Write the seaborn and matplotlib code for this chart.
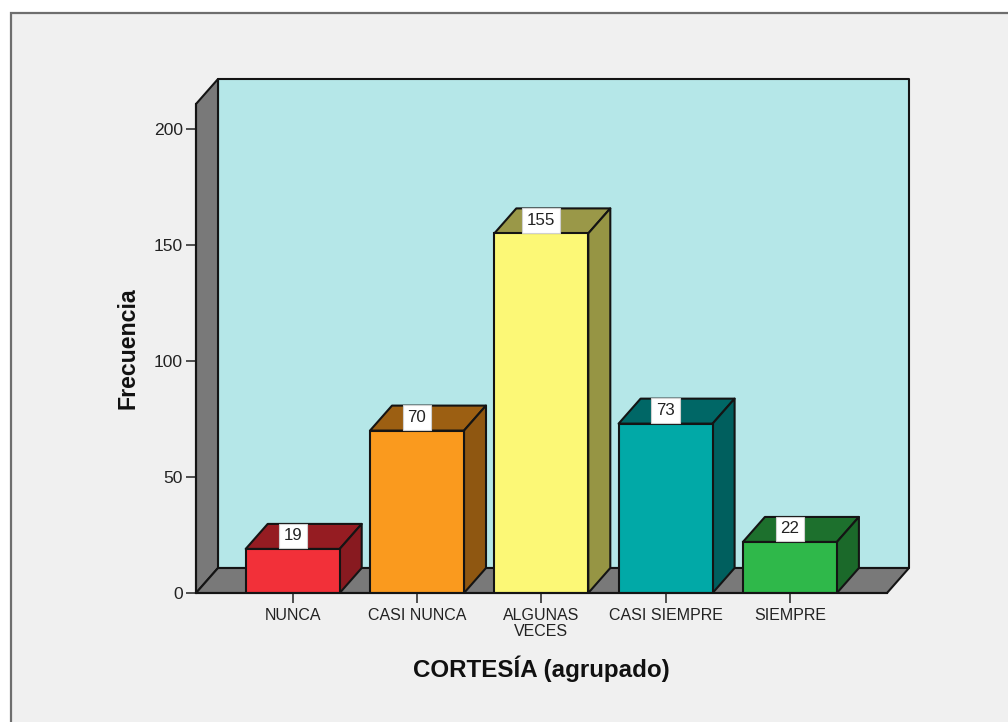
import matplotlib.pyplot as plt
import matplotlib.patches as mpatches
import pandas as pd
import seaborn as sns

# chart data
categories = ["NUNCA", "CASI NUNCA", "ALGUNAS\nVECES", "CASI SIEMPRE", "SIEMPRE"]
frequencies = [19, 70, 155, 73, 22]
y_ticks = [0, 50, 100, 150, 200]

# styles
front_colors = ["#f23039", "#fa9a1e", "#fcf876", "#01a9a7", "#2fb84a"]
top_colors = ["#951c22", "#9c5f12", "#9a9848", "#006766", "#1d702d"]
side_colors = ["#881a20", "#8f5711", "#969544", "#005f5e", "#1b692a"]
EDGE = "#141414"
WALL = "#b5e7e8"
GREY = "#797979"
PANEL = "#f0f0f0"

W, H = 1008, 722
X0, X1, Y0, Y1 = 196, 887, 593, 104  # front plane, in pixels
SLOT = 124.3  # pixels between bars
FIRST = 292.7  # pixel centre of the first bar
PX_PER_UNIT = 2.32
DEPTH_X = 22 / SLOT
DEPTH_Y = 25 / PX_PER_UNIT

sns.set_theme(style="white")
plt.rcParams["font.family"] = ["Liberation Sans", "DejaVu Sans"]

fig = plt.figure(figsize=(W / 100, H / 100), dpi=100, facecolor="white")

# panel with the grey border on top and left only
fig.add_artist(mpatches.Rectangle((11 / W, -0.01), 1, 1.01 - 13 / H, transform=fig.transFigure,
                                  facecolor=PANEL, edgecolor="#6e6e6e", linewidth=1.6, zorder=-1))

ax = fig.add_axes([X0 / W, (H - Y0) / H, (X1 - X0) / W, (Y0 - Y1) / H])
ax.patch.set_alpha(0)

df = pd.DataFrame({"cat": categories, "freq": frequencies})
sns.barplot(data=df, x="cat", y="freq", hue="cat", palette=front_colors, legend=False,
            width=94 / SLOT, edgecolor=EDGE, linewidth=1.5, saturation=1, ax=ax, zorder=4)

ax.set_xlim((X0 - FIRST) / SLOT, (X1 - FIRST) / SLOT)
ax.set_ylim(0, (Y0 - Y1) / PX_PER_UNIT)
xa, xb = ax.get_xlim()
ya, yb = ax.get_ylim()


def face(points, color, z):
    ax.add_patch(mpatches.Polygon(points, closed=True, facecolor=color, edgecolor=EDGE,
                                  linewidth=1.5, joinstyle="round", clip_on=False, zorder=z))


bars = list(ax.patches)

# back wall, left wall, floor
face([(xa + DEPTH_X, ya + DEPTH_Y), (xb + DEPTH_X, ya + DEPTH_Y),
      (xb + DEPTH_X, yb + DEPTH_Y), (xa + DEPTH_X, yb + DEPTH_Y)], WALL, 1)
face([(xa, ya), (xa + DEPTH_X, ya + DEPTH_Y), (xa + DEPTH_X, yb + DEPTH_Y), (xa, yb)], GREY, 1.5)
face([(xa, ya), (xb, ya), (xb + DEPTH_X, ya + DEPTH_Y), (xa + DEPTH_X, ya + DEPTH_Y)], GREY, 1.5)

# depth faces and value labels for every bar
for bar, top_c, side_c, value in zip(bars, top_colors, side_colors, frequencies):
    left, right = bar.get_x(), bar.get_x() + bar.get_width()
    height = bar.get_height()
    face([(left, height), (right, height), (right + DEPTH_X, height + DEPTH_Y),
          (left + DEPTH_X, height + DEPTH_Y)], top_c, 3)
    face([(right, 0), (right + DEPTH_X, DEPTH_Y), (right + DEPTH_X, height + DEPTH_Y),
          (right, height)], side_c, 3)
    ax.annotate(str(value), ((left + right) / 2, height), xytext=(0, 13), textcoords="offset pixels",
                ha="center", va="center", fontsize=12.2, color="#222222", zorder=6,
                annotation_clip=False,
                bbox=dict(boxstyle="square,pad=0.28", facecolor="white", edgecolor="#d0d0d0", linewidth=0.8))

sns.despine(ax=ax, top=True, right=True)
for side in ("left", "bottom"):
    ax.spines[side].set_color(EDGE)
    ax.spines[side].set_linewidth(1.5)
    ax.spines[side].set_zorder(5)

ax.set_yticks(y_ticks)
ax.tick_params(axis="both", length=7, width=1.2, color="#333333", labelcolor="#222222",
               left=True, bottom=True)
ax.tick_params(axis="y", pad=2.5, labelsize=12.6)
ax.tick_params(axis="x", pad=4, labelsize=11.5)
for lab in ax.get_xticklabels():
    lab.set_linespacing(1.08)

ax.set_xlabel("")
ax.set_ylabel("")
fig.text(541 / W, 1 - 669 / H, "CORTESÍA (agrupado)", ha="center", va="center",
         fontsize=17.4, fontweight="bold", color="#111111")
fig.text(128 / W, 1 - 348 / H, "Frecuencia", ha="center", va="center", rotation=90,
         fontsize=16.7, fontweight="bold", color="#111111")

fig.savefig("out.png", dpi=100, facecolor=fig.get_facecolor())
